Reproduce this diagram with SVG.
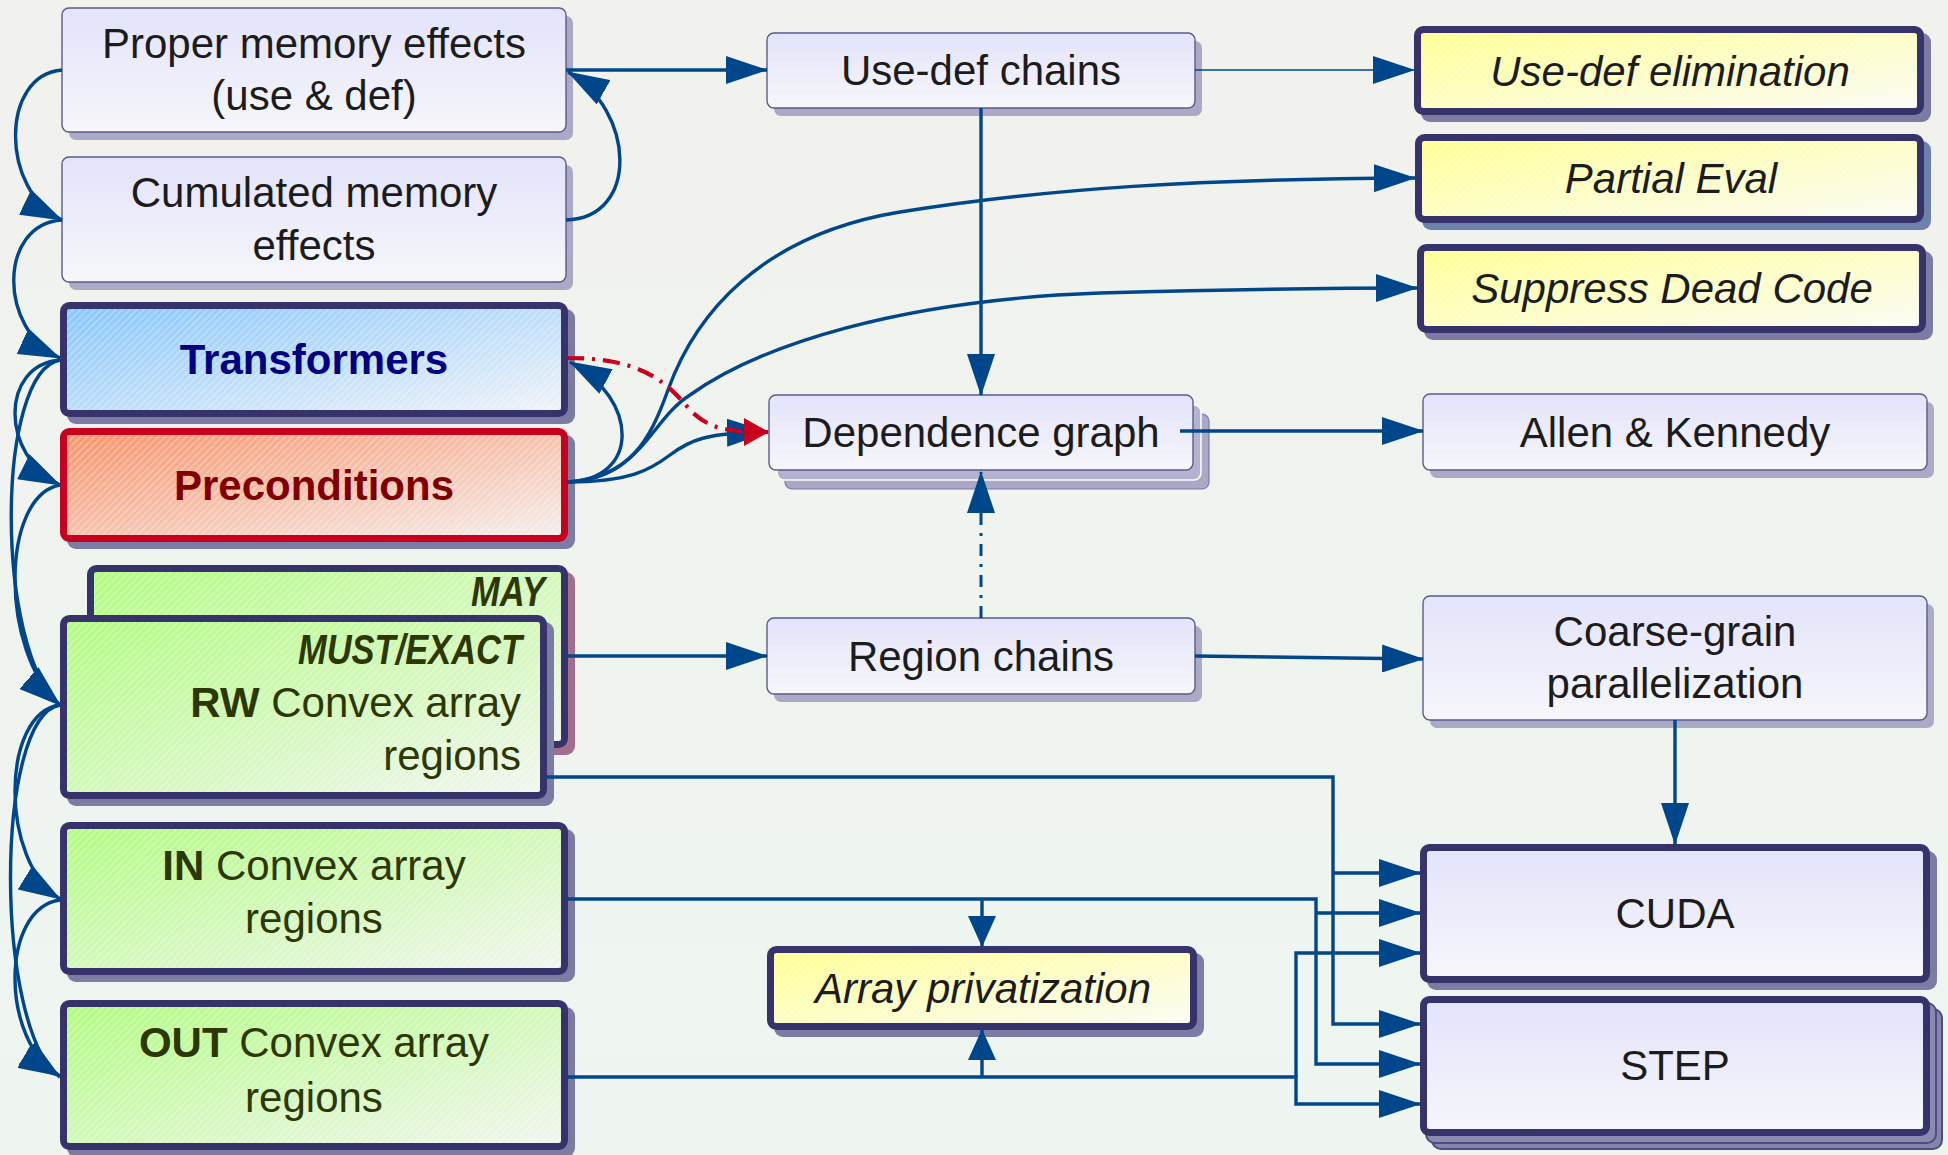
<svg xmlns="http://www.w3.org/2000/svg" width="1948" height="1155" viewBox="0 0 1948 1155">
<defs>
  <linearGradient id="bg" x1="0" y1="0" x2="0" y2="1">
    <stop offset="0" stop-color="#f1f1ed"/>
    <stop offset="1" stop-color="#eef5f0"/>
  </linearGradient>
  <linearGradient id="lav" x1="0" y1="0" x2="0" y2="1">
    <stop offset="0" stop-color="#e3e3fb"/>
    <stop offset="1" stop-color="#f6f6fa"/>
  </linearGradient>
  <linearGradient id="gBlue" x1="0" y1="0" x2="1" y2="1">
    <stop offset="0" stop-color="#86c6fb"/>
    <stop offset="1" stop-color="#f1f3f8"/>
  </linearGradient>
  <linearGradient id="gRed" x1="0" y1="0" x2="1" y2="1">
    <stop offset="0" stop-color="#f7936a"/>
    <stop offset="1" stop-color="#f5efee"/>
  </linearGradient>
  <linearGradient id="gGreen" x1="0" y1="0" x2="1" y2="1">
    <stop offset="0" stop-color="#b1fb80"/>
    <stop offset="1" stop-color="#f2f5f0"/>
  </linearGradient>
  <linearGradient id="gYellow" x1="0" y1="0" x2="1" y2="1">
    <stop offset="0" stop-color="#ffff8e"/>
    <stop offset="1" stop-color="#fbfbf7"/>
  </linearGradient>
  <pattern id="hatch" width="5" height="5" patternUnits="userSpaceOnUse" patternTransform="rotate(-45)">
    <rect width="5" height="1.3" fill="#ffffff" fill-opacity="0.35"/>
  </pattern>
  <marker id="ah" markerUnits="userSpaceOnUse" viewBox="0 0 42 28" markerWidth="42" markerHeight="28" refX="41" refY="14" orient="auto">
    <path d="M0,0 L42,14 L0,28 z" fill="#00468a"/>
  </marker>
  <marker id="ahs" markerUnits="userSpaceOnUse" viewBox="0 0 31 28" markerWidth="31" markerHeight="28" refX="30" refY="14" orient="auto">
    <path d="M0,0 L31,14 L0,28 z" fill="#00468a"/>
  </marker>
  <marker id="ahr" markerUnits="userSpaceOnUse" viewBox="0 0 25 28" markerWidth="25" markerHeight="28" refX="24" refY="14" orient="auto">
    <path d="M0,0 L25,14 L0,28 z" fill="#c8001e"/>
  </marker>
  <style>
    text { font-family: "Liberation Sans", Arial, sans-serif; font-size: 42px; fill: #1c1c1c; }
    .mid { text-anchor: middle; }
    .it { font-style: italic; }
    .grn { fill: #2d3704; }
    .thin { fill: url(#lav); stroke: #5b5b8c; stroke-width: 1.4; }
    .thinsh { fill: #aaaac6; }
    .thick { stroke: #36336a; stroke-width: 7; }
    .sh { fill: #7b7ba4; }
    .hatch { fill: url(#hatch); }
    .c { fill: none; stroke: #00468a; stroke-width: 3.4; marker-end: url(#ah); }
  </style>
</defs>

<rect width="1948" height="1155" fill="url(#bg)"/>

<!-- analyses, left column -->
<g id="proper-effects">
  <rect class="thinsh" x="69" y="16" width="504" height="124" rx="7"/>
  <rect class="thin" x="62" y="8" width="504" height="124" rx="7"/>
  <text class="mid" x="314" y="58">Proper memory effects</text>
  <text class="mid" x="314" y="110">(use &amp; def)</text>
</g>

<g id="cumulated-effects">
  <rect class="thinsh" x="69" y="165" width="504" height="125" rx="7"/>
  <rect class="thin" x="62" y="157" width="504" height="125" rx="7"/>
  <text class="mid" x="314" y="207">Cumulated memory</text>
  <text class="mid" x="314" y="260">effects</text>
</g>

<g id="transformers">
  <rect class="sh" x="67" y="309" width="508" height="115" rx="9"/>
  <rect class="thick" x="63.5" y="305.5" width="501" height="108" rx="6" fill="url(#gBlue)"/>
  <rect class="hatch" x="67" y="309" width="494" height="101"/>
  <text class="mid" x="314" y="374" font-weight="bold" style="fill:#000080">Transformers</text>
</g>

<g id="preconditions">
  <rect class="sh" x="67" y="435" width="508" height="114" rx="9"/>
  <rect x="63.5" y="431.5" width="501" height="107" rx="6" fill="url(#gRed)" stroke="#c8001e" stroke-width="7"/>
  <rect class="hatch" x="67" y="435" width="494" height="100"/>
  <text class="mid" x="314" y="500" font-weight="bold" style="fill:#800000">Preconditions</text>
</g>

<g id="regions-may">
  <rect x="94" y="572" width="481" height="183" rx="9" fill="#a36d8e"/>
  <rect class="thick" x="90.5" y="568.5" width="474" height="176" rx="6" fill="url(#gGreen)"/>
  <rect class="hatch" x="94" y="572" width="467" height="169"/>
  <text class="grn" x="545" y="606" text-anchor="end" font-weight="bold" font-style="italic" font-size="31" textLength="74" lengthAdjust="spacingAndGlyphs">MAY</text>
</g>

<g id="regions-rw">
  <rect class="sh" x="67" y="622" width="487" height="184" rx="9"/>
  <rect class="thick" x="63.5" y="618.5" width="480" height="177" rx="6" fill="url(#gGreen)"/>
  <rect class="hatch" x="67" y="622" width="473" height="170"/>
  <text class="grn" x="522" y="664" text-anchor="end" font-weight="bold" font-style="italic" font-size="31" textLength="224" lengthAdjust="spacingAndGlyphs">MUST/EXACT</text>
  <text class="grn" x="521" y="717" text-anchor="end"><tspan font-weight="bold">RW</tspan> Convex array</text>
  <text class="grn" x="521" y="770" text-anchor="end">regions</text>
</g>

<g id="regions-in">
  <rect class="sh" x="67" y="829" width="508" height="153" rx="9"/>
  <rect class="thick" x="63.5" y="825.5" width="501" height="146" rx="6" fill="url(#gGreen)"/>
  <rect class="hatch" x="67" y="829" width="494" height="139"/>
  <text class="grn mid" x="314" y="880"><tspan font-weight="bold">IN</tspan> Convex array</text>
  <text class="grn mid" x="314" y="933">regions</text>
</g>

<g id="regions-out">
  <rect class="sh" x="67" y="1007" width="508" height="150" rx="9"/>
  <rect class="thick" x="63.5" y="1003.5" width="501" height="143" rx="6" fill="url(#gGreen)"/>
  <rect class="hatch" x="67" y="1007" width="494" height="136"/>
  <text class="grn mid" x="314" y="1057"><tspan font-weight="bold">OUT</tspan> Convex array</text>
  <text class="grn mid" x="314" y="1112">regions</text>
</g>

<!-- middle column -->
<g id="use-def-chains">
  <rect class="thinsh" x="774" y="41" width="428" height="75" rx="7"/>
  <rect class="thin" x="767" y="33" width="428" height="75" rx="7"/>
  <text class="mid" x="981" y="85">Use-def chains</text>
</g>

<g id="dependence-graph">
  <rect x="785" y="414" width="424" height="75" rx="7" fill="#a9a9c6" stroke="#7a7aa8" stroke-width="1.2"/>
  <rect x="777" y="405" width="424" height="75" rx="7" fill="#b3b3cf" stroke="#fbfbff" stroke-width="1.6"/>
  <rect class="thin" x="769" y="395" width="424" height="75" rx="7"/>
  <text class="mid" x="981" y="447">Dependence graph</text>
</g>

<g id="region-chains">
  <rect class="thinsh" x="774" y="626" width="428" height="76" rx="7"/>
  <rect class="thin" x="767" y="618" width="428" height="76" rx="7"/>
  <text class="mid" x="981" y="671">Region chains</text>
</g>

<g id="array-privatization">
  <rect class="sh" x="774" y="953" width="430" height="84" rx="9"/>
  <rect class="thick" x="770.5" y="949.5" width="423" height="77" rx="6" fill="url(#gYellow)"/>
  <rect class="hatch" x="774" y="953" width="416" height="70"/>
  <text class="mid it" x="983" y="1003">Array privatization</text>
</g>

<!-- transformations, right column -->
<g id="use-def-elimination">
  <rect class="sh" x="1421" y="33" width="510" height="89" rx="9"/>
  <rect class="thick" x="1417.5" y="29.5" width="503" height="82" rx="6" fill="url(#gYellow)"/>
  <rect class="hatch" x="1421" y="33" width="496" height="75"/>
  <text class="mid it" x="1670" y="86">Use-def elimination</text>
</g>

<g id="partial-eval">
  <rect x="1422" y="141" width="509" height="89" rx="9" fill="#6d82ab"/>
  <rect class="thick" x="1418.5" y="137.5" width="502" height="82" rx="6" fill="url(#gYellow)"/>
  <rect class="hatch" x="1422" y="141" width="495" height="75"/>
  <text class="mid it" x="1671" y="193">Partial Eval</text>
</g>

<g id="suppress-dead-code">
  <rect class="sh" x="1424" y="251" width="509" height="89" rx="9"/>
  <rect class="thick" x="1420.5" y="247.5" width="502" height="82" rx="6" fill="url(#gYellow)"/>
  <rect class="hatch" x="1424" y="251" width="495" height="75"/>
  <text class="mid it" x="1672" y="303">Suppress Dead Code</text>
</g>

<g id="allen-kennedy">
  <rect class="thinsh" x="1430" y="402" width="504" height="76" rx="7"/>
  <rect class="thin" x="1423" y="394" width="504" height="76" rx="7"/>
  <text class="mid" x="1675" y="447">Allen &amp; Kennedy</text>
</g>

<g id="coarse-grain">
  <rect class="thinsh" x="1430" y="604" width="504" height="124" rx="7"/>
  <rect class="thin" x="1423" y="596" width="504" height="124" rx="7"/>
  <text class="mid" x="1675" y="646">Coarse-grain</text>
  <text class="mid" x="1675" y="698">parallelization</text>
</g>

<g id="cuda">
  <rect class="sh" x="1427" y="851" width="510" height="139" rx="9"/>
  <rect class="thick" x="1423.5" y="847.5" width="503" height="132" rx="6" fill="url(#lav)"/>
  <text class="mid" x="1675" y="928">CUDA</text>
</g>

<g id="step">
  <rect x="1432" y="1009" width="510" height="140" rx="9" fill="#8585ab" stroke="#4e4c80" stroke-width="2"/>
  <rect x="1426" y="1003" width="510" height="140" rx="9" fill="#8a8ab0" stroke="#4e4c80" stroke-width="2"/>
  <rect class="thick" x="1423.5" y="999.5" width="503" height="133" rx="6" fill="url(#lav)"/>
  <text class="mid" x="1675" y="1080">STEP</text>
</g>

<!-- connectors -->
<g id="connectors">
  <!-- left-hand bends between analyses -->
  <path class="c" d="M62,70 C0,75 0,190 62,220"/>
  <path class="c" d="M62,220 C-2,224 -2,330 60,358"/>
  <path class="c" d="M60,360 C0,365 0,455 60,485"/>
  <path class="c" d="M60,360 C-5,372 -5,650 60,705"/>
  <path class="c" d="M60,485 C0,496 0,652 60,705"/>
  <path class="c" d="M60,705 C0,713 0,862 60,899"/>
  <path class="c" d="M60,705 C-6,716 -6,1030 60,1077"/>
  <path class="c" d="M60,900 C0,908 0,1042 60,1076"/>

  <!-- right-hand bends back into the left column -->
  <path class="c" d="M566,220 C640,218 635,110 568,72"/>
  <path class="c" d="M567,482 C640,480 640,400 570,362"/>

  <!-- out of Preconditions -->
  <path class="c" d="M567,482 C630,478 650,440 668,390 C695,315 760,235 900,212 C1050,188 1200,179 1415,178"/>
  <path class="c" d="M567,482 C640,480 650,420 690,395 C760,345 900,300 1100,293 C1250,289 1350,288 1417,288"/>
  <path class="c" d="M567,482 C630,482 650,470 670,455 C690,440 705,433 768,432"/>
  <path d="M567,358 C640,358 665,380 690,410 C710,430 730,432 768,432" fill="none" stroke="#c8001e" stroke-width="4.2" stroke-dasharray="17 8 3 8" marker-end="url(#ahr)"/>

  <!-- straight links -->
  <path class="c" d="M566,70 H767"/>
  <path class="c" d="M1195,70 H1414" style="stroke-width:1.5"/>
  <path class="c" d="M981,108 V395"/>
  <path class="c" d="M981,618 V472" style="stroke-dasharray:12 8 3 8;stroke-width:3"/>
  <path class="c" d="M1180,431 H1423"/>
  <path class="c" d="M568,656 H767"/>
  <path class="c" d="M1195,656 L1423,659"/>
  <path class="c" d="M1675,720 V844"/>

  <!-- array regions routed to privatization and code generators -->
  <path class="c" d="M546,777 H1333 V1024 H1420"/>
  <path class="c" d="M1333,873 H1420"/>
  <path class="c" d="M568,899 H1316 V1064 H1420"/>
  <path class="c" d="M1316,913 H1420"/>
  <path class="c" d="M568,1077 H1296 V1104 H1420"/>
  <path class="c" d="M1296,1077 V953 H1420"/>
  <path class="c" d="M982,899 V946" style="marker-end:url(#ahs)"/>
  <path class="c" d="M982,1077 V1030" style="marker-end:url(#ahs)"/>
</g>
</svg>
